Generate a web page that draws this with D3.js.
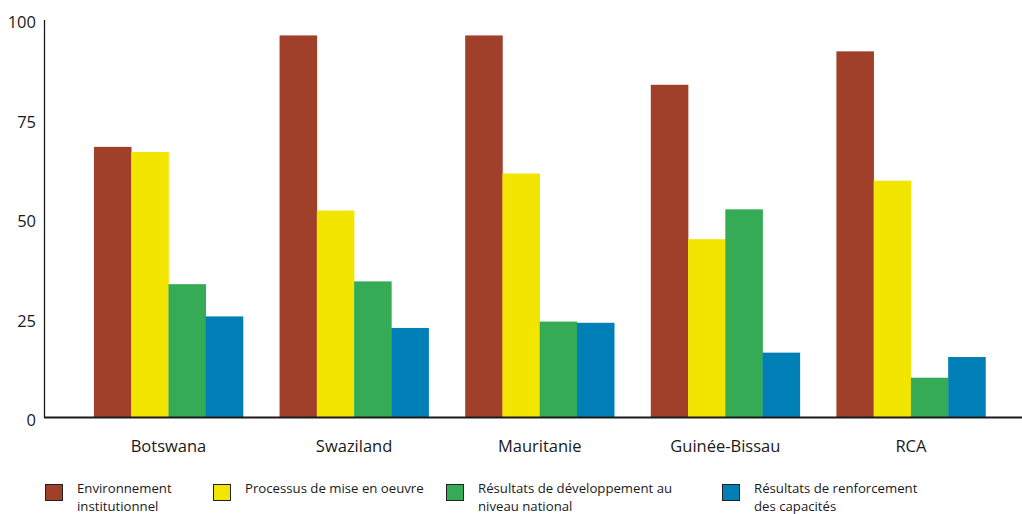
<!DOCTYPE html>
<html>
<head>
<meta charset="utf-8">
<script src="https://cdn.jsdelivr.net/npm/d3@7"></script>
<style>
  html, body { margin: 0; padding: 0; background: #fff; }
  svg { display: block; font-family: "Open Sans", "Noto Sans", sans-serif; }
</style>
</head>
<body>
<svg id="chart" width="1022" height="514"></svg>
<script>
// Pays comparés
const countries = ["Botswana", "Swaziland", "Mauritanie", "Guinée-Bissau", "RCA"];

// Séries (scores sur 100)
const seriesNames = [
  "Environnement institutionnel",
  "Processus de mise en oeuvre",
  "Résultats de développement au niveau national",
  "Résultats de renforcement des capacités"
];
const environnement = [68, 96, 96, 83.6, 92];
const processus     = [66.7, 52, 61.3, 44.8, 59.5];
const developpement = [33.5, 34.2, 24.1, 52.3, 10];
const renforcement  = [25.4, 22.5, 23.8, 16.3, 15.2];

const yTicks = [0, 25, 50, 75, 100];
const colors = ["#a1402a", "#f2e500", "#35ab55", "#0080b7"];

// Libellés de légende sur deux lignes
const legendLines = [
  ["Environnement", "institutionnel"],
  ["Processus de mise en oeuvre"],
  ["Résultats de développement au", "niveau national"],
  ["Résultats de renforcement", "des capacités"]
];

const values = [environnement, processus, developpement, renforcement];
const rows = countries.map((c, i) => ({
  country: c,
  vals: values.map((s, k) => ({ key: k, value: s[i] }))
}));

const svg = d3.select("#chart");
const plotLeft = 44, plotRight = 1022, yZero = 417.5, yTop = 19.5;

const x0 = d3.scaleBand()
  .domain(countries)
  .range([57.4, 1022])
  .paddingInner(0.197)
  .paddingOuter(0.197);

const x1 = d3.scaleBand()
  .domain(d3.range(seriesNames.length))
  .range([0, x0.bandwidth()])
  .padding(0);

const y = d3.scaleLinear().domain([0, 100]).range([yZero, yTop]);

// Barres
const groups = svg.append("g")
  .selectAll("g")
  .data(rows)
  .join("g")
  .attr("transform", d => `translate(${x0(d.country)},0)`);

groups.selectAll("rect")
  .data(d => d.vals)
  .join("rect")
  .attr("x", d => x1(d.key))
  .attr("width", x1.bandwidth() + 0.3)
  .attr("y", d => y(d.value))
  .attr("height", d => y(0) - y(d.value))
  .attr("fill", d => colors[d.key]);

// Axe vertical
const yAxis = d3.axisLeft(y).tickValues(yTicks).tickSize(0).tickPadding(8);
const gy = svg.append("g")
  .attr("transform", `translate(${plotLeft},0)`)
  .call(yAxis);
gy.select(".domain").attr("stroke", "#1a1a1a").attr("stroke-width", 1.3);
gy.selectAll("text")
  .attr("font-size", 16.5)
  .attr("dy", "0.5em")
  .attr("fill", "#1a1a1a")
  .attr("font-family", "Open Sans, sans-serif");

// Axe horizontal
const xAxis = d3.axisBottom(x0).tickSize(0).tickPadding(23);
const gx = svg.append("g")
  .attr("transform", `translate(0,${yZero})`)
  .call(xAxis);
gx.select(".domain")
  .attr("d", `M${plotLeft},0H${plotRight}`)
  .attr("stroke", "#1a1a1a")
  .attr("stroke-width", 2.2);
gx.selectAll("text")
  .attr("font-size", 16.5)
  .attr("fill", "#1a1a1a")
  .attr("font-family", "Open Sans, sans-serif");

// Légende
const legendX = [45, 213, 446, 722];
const legend = svg.append("g")
  .selectAll("g")
  .data(seriesNames)
  .join("g")
  .attr("transform", (d, i) => `translate(${legendX[i]},484)`);

legend.append("rect")
  .attr("x", 0.5).attr("y", 0.5)
  .attr("width", 17).attr("height", 16)
  .attr("fill", (d, i) => colors[i])
  .attr("stroke", "#222")
  .attr("stroke-width", 1);

legend.append("text")
  .attr("x", 32)
  .attr("y", 9)
  .attr("font-size", 13.2)
  .attr("fill", "#1a1a1a")
  .selectAll("tspan")
  .data((d, i) => legendLines[i])
  .join("tspan")
  .attr("x", 32)
  .attr("dy", (d, j) => j === 0 ? 0 : 17.5)
  .text(d => d);
</script>
</body>
</html>
